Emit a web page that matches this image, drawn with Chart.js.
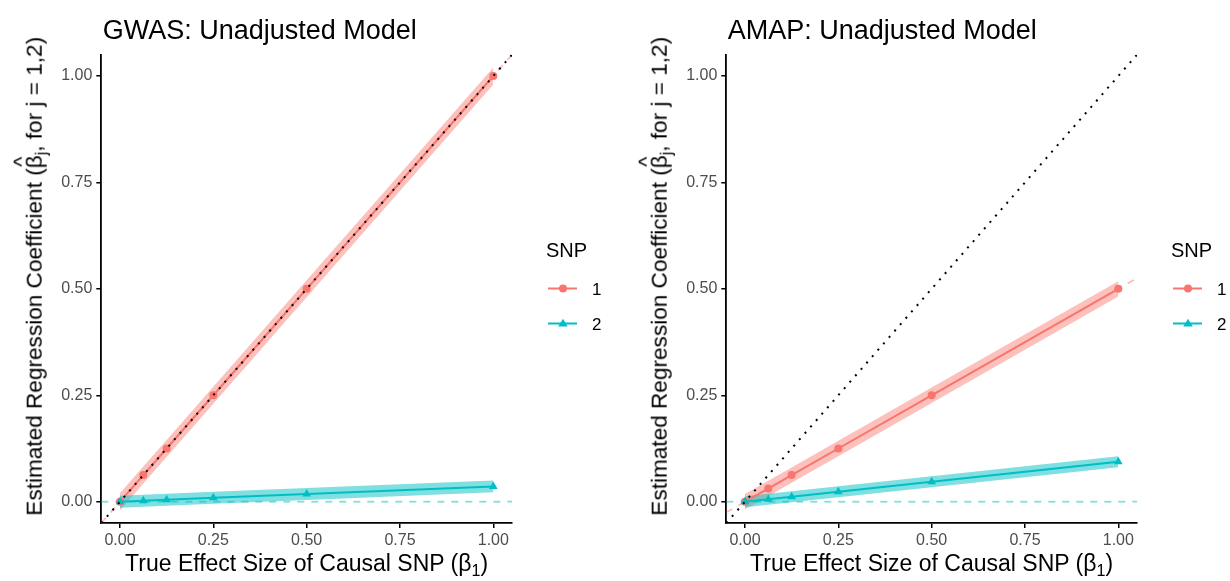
<!DOCTYPE html>
<html>
<head>
<meta charset="utf-8">
<script src="https://cdn.jsdelivr.net/npm/chart.js@4.4.1/dist/chart.umd.min.js"></script>
<style>
  html, body { margin: 0; padding: 0; background: #fff; }
  #page { position: relative; width: 1230px; height: 581px; overflow: hidden;
          font-family: "Liberation Sans", Arial, sans-serif; color: #000; }
  canvas { position: absolute; top: 0; }
  .ptitle { position: absolute; font-size: 27px; line-height: 27px; white-space: nowrap; }
  .xtitle { position: absolute; width: 500px; text-align: center; font-size: 23px;
            line-height: 23px; white-space: nowrap; }
  .ytitle { position: absolute; width: 600px; height: 22.6px; text-align: center; font-size: 22.6px;
            line-height: 22.6px; white-space: nowrap; transform: rotate(-90deg); transform-origin: 50% 50%; }
  sub { font-size: 0.7em; vertical-align: -0.3em; line-height: 0; }
  .bh { position: relative; display: inline-block; }
  .hat { position: absolute; left: 0; right: 0; text-align: center; top: -0.62em; font-size: 0.95em; }
</style>
</head>
<body>
<div id="page">
  <canvas id="gwas" width="615" height="581" style="left:0"></canvas>
  <canvas id="amap" width="615" height="581" style="left:615px"></canvas>

  <div class="ptitle" style="left:102.7px;top:17.2px">GWAS: Unadjusted Model</div>
  <div class="ptitle" style="left:727.7px;top:17.2px">AMAP: Unadjusted Model</div>

  <div class="xtitle" style="left:56.6px;top:551.5px">True Effect Size of Causal SNP (β<sub>1</sub>)</div>
  <div class="xtitle" style="left:681.6px;top:551.5px">True Effect Size of Causal SNP (β<sub>1</sub>)</div>

  <div class="ytitle" style="left:-265px;top:264.5px">Estimated Regression Coefficient (<span class="bh">β<span class="hat">^</span></span><sub>j</sub>, for j = 1,2)</div>
  <div class="ytitle" style="left:360px;top:264.5px">Estimated Regression Coefficient (<span class="bh">β<span class="hat">^</span></span><sub>j</sub>, for j = 1,2)</div>
</div>

<script>
// Simulated true effect sizes of the causal SNP
const xValues = [0, 0.0625, 0.125, 0.25, 0.5, 1];
const axisLimits = [-0.05, 1.05];
const tickValues = [0, 0.25, 0.5, 0.75, 1];
const tickLabels = ['0.00', '0.25', '0.50', '0.75', '1.00'];
const legendTitle = 'SNP';
const snpNames = ['1', '2'];

// GWAS, unadjusted model: mean estimates and interval bounds
const gwasSnp1   = [0, 0.0625, 0.125, 0.25, 0.5, 1.0];
const gwasSnp1Lo = [-0.02, 0.0425, 0.105, 0.23, 0.48, 0.98];
const gwasSnp1Hi = [0.02, 0.0825, 0.145, 0.27, 0.52, 1.02];
const gwasSnp2   = [0, 0.0023, 0.0047, 0.0094, 0.018, 0.036];
const gwasSnp2Lo = [-0.014, -0.0117, -0.0093, -0.0046, 0.004, 0.022];
const gwasSnp2Hi = [0.014, 0.0163, 0.0187, 0.0234, 0.032, 0.050];

// AMAP, unadjusted model: mean estimates and interval bounds
const amapSnp1   = [0, 0.031, 0.0625, 0.125, 0.25, 0.5];
const amapSnp1Lo = [-0.018, 0.013, 0.0445, 0.107, 0.232, 0.482];
const amapSnp1Hi = [0.018, 0.049, 0.0805, 0.143, 0.268, 0.518];
const amapSnp2   = [0, 0.0059, 0.0117, 0.0235, 0.047, 0.094];
const amapSnp2Lo = [-0.013, -0.0071, -0.0013, 0.0105, 0.034, 0.081];
const amapSnp2Hi = [0.013, 0.0189, 0.0247, 0.0365, 0.060, 0.107];

// Expected-coefficient reference lines (slopes) for SNP 1 and SNP 2, plus the identity line
const gwasRefSlopes = [1, 0];
const amapRefSlopes = [0.5, 0];
const identitySlope = 1;

const RED = '#F8766D';
const TEAL = '#00BFC4';
const FONT = '"Liberation Sans", Arial, sans-serif';

function rgba(hex, a) {
  const n = parseInt(hex.slice(1), 16);
  return `rgba(${(n >> 16) & 255},${(n >> 8) & 255},${n & 255},${a})`;
}
const pts = ys => xValues.map((x, i) => ({ x, y: ys[i] }));
const refLine = slope => axisLimits.map(x => ({ x, y: slope * x }));

// Legend drawn to the right of each panel: title, then a line-with-marker key per SNP
const snpLegend = {
  id: 'snpLegend',
  afterDraw(chart) {
    const ctx = chart.ctx;
    const x0 = chart.chartArea.right + 34;
    ctx.save();
    ctx.fillStyle = '#000';
    ctx.textBaseline = 'alphabetic';
    ctx.textAlign = 'left';
    ctx.font = `20px ${FONT}`;
    ctx.fillText(legendTitle, x0, 256.5);
    const colors = [RED, TEAL];
    snpNames.forEach((name, i) => {
      const y = 288.5 + i * 35;
      ctx.strokeStyle = colors[i];
      ctx.fillStyle = colors[i];
      ctx.lineWidth = 2;
      ctx.beginPath();
      ctx.moveTo(x0 + 2, y);
      ctx.lineTo(x0 + 31, y);
      ctx.stroke();
      const cx = x0 + 17;
      ctx.beginPath();
      if (i === 0) {
        ctx.arc(cx, y, 4, 0, Math.PI * 2);
      } else {
        const r = 4.8;
        ctx.moveTo(cx, y - r);
        ctx.lineTo(cx + r, y + r * 0.65);
        ctx.lineTo(cx - r, y + r * 0.65);
        ctx.closePath();
      }
      ctx.fill();
      ctx.fillStyle = '#000';
      ctx.font = `17px ${FONT}`;
      ctx.fillText(name, x0 + 46, y + 6);
    });
    ctx.restore();
  }
};

function axisOptions(isX) {
  return {
    type: 'linear',
    min: axisLimits[0],
    max: axisLimits[1],
    afterBuildTicks: s => { s.ticks = tickValues.map(v => ({ value: v })); },
    afterFit: s => { if (isX) s.height = 30; else s.width = 50; },
    ticks: {
      autoSkip: false,
      maxRotation: 0,
      color: '#4D4D4D',
      padding: isX ? 3 : 4,
      font: { family: FONT, size: 16 },
      callback: (v, i) => tickLabels[i]
    },
    grid: {
      display: true,
      drawOnChartArea: false,
      drawTicks: true,
      tickLength: 5,
      color: '#000',
      tickColor: '#000',
      lineWidth: 1.5,
      tickWidth: 1.5
    },
    border: { display: true, color: '#000', width: 1.8 }
  };
}

function makePanel(id, s, padLeft, padRight) {
  const line = {
    pointRadius: 0, pointHoverRadius: 0, fill: false, tension: 0
  };
  return new Chart(document.getElementById(id), {
    type: 'line',
    data: {
      datasets: [
        { ...line, data: pts(s.lo1), borderWidth: 0, order: 7 },
        { ...line, data: pts(s.hi1), borderWidth: 0, fill: '-1', backgroundColor: rgba(RED, 0.45), order: 4 },
        { ...line, data: pts(s.lo2), borderWidth: 0, order: 7 },
        { ...line, data: pts(s.hi2), borderWidth: 0, fill: '-1', backgroundColor: rgba(TEAL, 0.5), order: 3 },
        { ...line, data: refLine(s.ref[0]), borderColor: rgba(RED, 0.5), borderWidth: 1.6, borderDash: [7, 7], order: 6 },
        { ...line, data: refLine(s.ref[1]), borderColor: rgba(TEAL, 0.5), borderWidth: 1.8, borderDash: [7, 7], order: 5 },
        { ...line, data: pts(s.y1), borderColor: RED, backgroundColor: RED, borderWidth: 2,
          pointRadius: 4, pointStyle: 'circle', pointBorderWidth: 0, order: 2 },
        { ...line, data: pts(s.y2), borderColor: TEAL, backgroundColor: TEAL, borderWidth: 2,
          pointRadius: 5, pointStyle: 'triangle', pointBorderWidth: 0, order: 1 },
        { ...line, data: refLine(identitySlope), borderColor: '#000', borderWidth: 2,
          borderDash: [2, 6.5], order: 0 }
      ]
    },
    options: {
      responsive: false,
      animation: false,
      events: [],
      devicePixelRatio: 1,
      layout: { padding: { left: padLeft, right: padRight, top: 54.7, bottom: 28 } },
      plugins: { legend: { display: false }, tooltip: { enabled: false } },
      scales: { x: axisOptions(true), y: axisOptions(false) }
    },
    plugins: [snpLegend]
  });
}

makePanel('gwas', {
  y1: gwasSnp1, lo1: gwasSnp1Lo, hi1: gwasSnp1Hi,
  y2: gwasSnp2, lo2: gwasSnp2Lo, hi2: gwasSnp2Hi,
  ref: gwasRefSlopes
}, 51.3, 103);

makePanel('amap', {
  y1: amapSnp1, lo1: amapSnp1Lo, hi1: amapSnp1Hi,
  y2: amapSnp2, lo2: amapSnp2Lo, hi2: amapSnp2Hi,
  ref: amapRefSlopes
}, 61.3, 93);
</script>
</body>
</html>
